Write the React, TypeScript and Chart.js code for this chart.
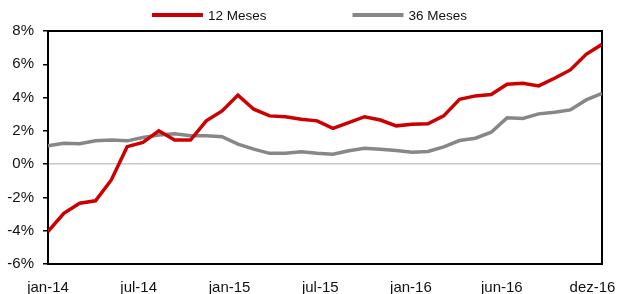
import React, { useEffect, useRef } from 'react';
import { Chart, registerables } from 'chart.js';

Chart.register(...registerables);

const months = [
  'jan-14', 'fev-14', 'mar-14', 'abr-14', 'mai-14', 'jun-14', 'jul-14', 'ago-14', 'set-14', 'out-14', 'nov-14', 'dez-14',
  'jan-15', 'fev-15', 'mar-15', 'abr-15', 'mai-15', 'jun-15', 'jul-15', 'ago-15', 'set-15', 'out-15', 'nov-15', 'dez-15',
  'jan-16', 'fev-16', 'mar-16', 'abr-16', 'mai-16', 'jun-16', 'jul-16', 'ago-16', 'set-16', 'out-16', 'nov-16', 'dez-16',
];

const series12 = [
  -4.05, -2.95, -2.35, -2.2, -0.95, 1.05, 1.3, 2.0, 1.45, 1.45,
  2.6, 3.2, 4.15, 3.3, 2.9, 2.85, 2.7, 2.6, 2.15, 2.5,
  2.85, 2.65, 2.3, 2.4, 2.42, 2.9, 3.9, 4.1, 4.18, 4.8,
  4.86, 4.7, 5.16, 5.66, 6.6, 7.2,
];

const series36 = [
  1.1, 1.25, 1.22, 1.4, 1.45, 1.4, 1.6, 1.75, 1.82, 1.7,
  1.7, 1.65, 1.2, 0.9, 0.65, 0.65, 0.75, 0.65, 0.6, 0.8,
  0.95, 0.9, 0.82, 0.72, 0.76, 1.04, 1.42, 1.56, 1.92, 2.78,
  2.74, 3.02, 3.12, 3.26, 3.86, 4.26,
];

const seriesNames = ['12 Meses', '36 Meses'];
const seriesColors = ['#cc0000', '#878787'];

const xTickPositions = [0, 5.73, 11.47, 17.2, 22.93, 28.67, 34.4];
const xTickLabels = ['jan-14', 'jul-14', 'jan-15', 'jul-15', 'jan-16', 'jun-16', 'dez-16'];

const yMin = -6;
const yMax = 8;
const yStep = 2;

const FONT = '"Liberation Sans", Arial, sans-serif';

const framePlugin = {
  id: 'frameAndLegend',
  beforeDatasetsDraw(chart: any) {
    const { ctx, chartArea } = chart;
    ctx.save();
    ctx.strokeStyle = '#000';
    ctx.lineWidth = 2;
    ctx.strokeRect(chartArea.left, chartArea.top, chartArea.right - chartArea.left, chartArea.bottom - chartArea.top);
    ctx.restore();
  },
  afterDraw(chart: any) {
    const { ctx } = chart;
    const lineLen = 51;
    const gap = 5;
    const itemGap = 86;
    const y = 15;
    ctx.save();
    ctx.font = '13.5px ' + FONT;
    ctx.textBaseline = 'middle';
    const ds = chart.data.datasets;
    const widths = ds.map((d: any) => lineLen + gap + ctx.measureText(d.label).width);
    const total = widths.reduce((a: number, b: number) => a + b, 0) + itemGap * (ds.length - 1);
    let x = (chart.width - total) / 2;
    ds.forEach((d: any, i: number) => {
      ctx.strokeStyle = d.borderColor;
      ctx.lineWidth = 4;
      ctx.beginPath();
      ctx.moveTo(x, y);
      ctx.lineTo(x + lineLen, y);
      ctx.stroke();
      ctx.fillStyle = '#111';
      ctx.fillText(d.label, x + lineLen + gap, y + 1);
      x += widths[i] + itemGap;
    });
    ctx.restore();
  },
};

export default function App() {
  const ref = useRef<HTMLCanvasElement>(null);
  useEffect(() => {
    if (!ref.current) return;
    const chart = new Chart(ref.current, {
      type: 'line',
      data: {
        datasets: [
          {
            label: seriesNames[0],
            data: months.map((_, i) => ({ x: i, y: series12[i] })),
            borderColor: seriesColors[0],
            backgroundColor: seriesColors[0],
            borderWidth: 3.5,
            pointRadius: 0,
            tension: 0,
          },
          {
            label: seriesNames[1],
            data: months.map((_, i) => ({ x: i, y: series36[i] })),
            borderColor: seriesColors[1],
            backgroundColor: seriesColors[1],
            borderWidth: 3.5,
            pointRadius: 0,
            tension: 0,
          },
        ],
      },
      options: {
        animation: false,
        responsive: false,
        layout: { padding: { left: 0, right: 17, top: 31, bottom: 0 } },
        plugins: {
          legend: { display: false },
          tooltip: { enabled: false },
        },
        scales: {
          x: {
            type: 'linear',
            min: 0,
            max: months.length - 1,
            border: { display: false },
            grid: { display: false, drawTicks: false },
            afterBuildTicks: (scale: any) => {
              scale.ticks = xTickPositions.map((v) => ({ value: v }));
            },
            afterFit: (scale: any) => {
              scale.height = 30;
              scale.paddingLeft = 0;
              scale.paddingRight = 0;
            },
            ticks: {
              autoSkip: false,
              maxRotation: 0,
              padding: 15,
              color: '#111',
              font: { family: FONT, size: 15 },
              callback: (_v: any, i: number) => xTickLabels[i],
            },
          },
          y: {
            min: yMin,
            max: yMax,
            border: { display: false },
            grid: {
              color: (c: any) => (c.tick && c.tick.value === 0 ? '#c8c8c8' : 'rgba(0,0,0,0)'),
              lineWidth: 1.5,
              tickColor: '#000',
              tickLength: 5,
              drawOnChartArea: true,
            },
            afterFit: (scale: any) => {
              scale.width = 48;
            },
            ticks: {
              stepSize: yStep,
              padding: 9,
              color: '#111',
              font: { family: FONT, size: 15 },
              callback: (v: any) => v + '%',
            },
          },
        },
      },
      plugins: [framePlugin],
    } as any);
    return () => chart.destroy();
  }, []);
  return (
    <div style={{ position: 'absolute', left: 0, top: 0, width: 619, height: 294, background: '#fff' }}>
      <canvas ref={ref} width={619} height={294} />
    </div>
  );
}
